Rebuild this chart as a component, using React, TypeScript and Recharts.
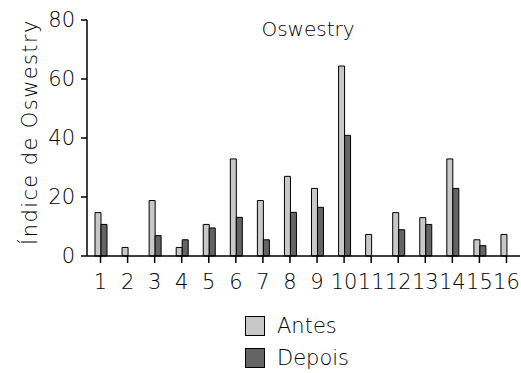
import { BarChart, Bar, XAxis, YAxis, Legend } from 'recharts'

const PATIENTS = ['1', '2', '3', '4', '5', '6', '7', '8', '9', '10', '11', '12', '13', '14', '15', '16']
const ANTES = [14.7, 2.9, 18.8, 2.9, 10.7, 32.9, 18.8, 27, 22.9, 64.4, 7.3, 14.7, 13, 32.9, 5.5, 7.3]
const DEPOIS = [10.7, 0, 6.9, 5.5, 9.5, 13.1, 5.5, 14.8, 16.5, 40.9, 0, 8.9, 10.7, 22.9, 3.5, 0]
const Y_TICKS = [0, 20, 40, 60, 80]

const FONT = '"DejaVu Sans", sans-serif'
const TEXT = '#000'

const data = PATIENTS.map((name, i) => ({ name, antes: ANTES[i], depois: DEPOIS[i] }))

function YLabel(props: any) {
  const vb = props.viewBox
  const x = vb.x + 30
  const y = vb.y + vb.height / 2 - 6
  return (
    <text
      x={x}
      y={y}
      transform={`rotate(-90, ${x}, ${y})`}
      textAnchor="middle"
      dominantBaseline="central"
      fontFamily={FONT}
      fontWeight={300}
      fontSize={21}
      letterSpacing={1.4}
      fill={TEXT}
    >
      Índice de Oswestry
    </text>
  )
}

function LegendBox({ payload }: any) {
  return (
    <div style={{ fontFamily: FONT, fontWeight: 300, fontSize: 21, color: TEXT }}>
      {(payload ?? []).map((p: any) => (
        <div key={p.value} style={{ display: 'flex', alignItems: 'center', height: 32 }}>
          <span
            style={{
              width: 18,
              height: 18,
              background: p.color,
              border: '1.5px solid #000',
              marginRight: 12,
              display: 'inline-block',
            }}
          />
          <span>{p.value}</span>
        </div>
      ))}
    </div>
  )
}

export default function App() {
  return (
    <div style={{ position: 'absolute', left: 0, top: 0, width: 521, height: 373, background: '#fff' }}>
      <div
        style={{
          position: 'absolute',
          left: 258,
          top: 17,
          width: 100,
          textAlign: 'center',
          fontFamily: FONT,
          fontWeight: 300,
          fontSize: 20,
          color: TEXT,
        }}
      >
        Oswestry
      </div>
      <BarChart
        width={521}
        height={373}
        data={data}
        margin={{ top: 20, right: 1, left: 0, bottom: 87 }}
        barGap={0}
        barSize={6}
      >
        <XAxis
          dataKey="name"
          interval={0}
          tickSize={7}
          tickMargin={11}
          axisLine={{ stroke: '#000', strokeWidth: 1.5 }}
          tickLine={{ stroke: '#000', strokeWidth: 1.5 }}
          tick={{ fontFamily: FONT, fontWeight: 300, fontSize: 21, fill: TEXT }}
          height={30}
        />
        <YAxis
          domain={[0, 80]}
          ticks={Y_TICKS}
          width={87}
          tickSize={6}
          tickMargin={6}
          axisLine={{ stroke: '#000', strokeWidth: 1.5 }}
          tickLine={{ stroke: '#000', strokeWidth: 1.5 }}
          tick={{ fontFamily: FONT, fontWeight: 300, fontSize: 21, fill: TEXT }}
          label={YLabel}
        />
        <Legend
          layout="vertical"
          align="center"
          verticalAlign="middle"
          wrapperStyle={{ left: 245, top: 310, width: 130 }}
          content={LegendBox}
        />
        <Bar dataKey="antes" name="Antes" fill="#c8c8c8" stroke="#000" strokeWidth={1} isAnimationActive={false} />
        <Bar dataKey="depois" name="Depois" fill="#646464" stroke="#000" strokeWidth={1} isAnimationActive={false} />
      </BarChart>
    </div>
  )
}
